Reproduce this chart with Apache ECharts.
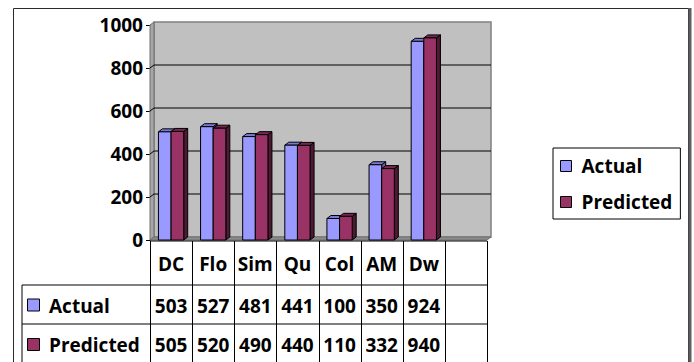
<!DOCTYPE html>
<html>
<head>
<meta charset="utf-8">
<script src="https://cdn.jsdelivr.net/npm/echarts@6/dist/echarts.min.js"></script>
<style>
  html, body { margin: 0; padding: 0; background: #ffffff; }
  #chart { width: 694px; height: 362px; }
</style>
</head>
<body>
<div id="chart"></div>
<script>
// Categories (the last slot is an empty column in the data table)
const categories = ['DC', 'Flo', 'Sim', 'Qu', 'Col', 'AM', 'Dw', ''];
const actual = [503, 527, 481, 441, 100, 350, 924];
const predicted = [505, 520, 490, 440, 110, 332, 940];
const seriesNames = ['Actual', 'Predicted'];
const yTicks = [0, 200, 400, 600, 800, 1000];

// Plot geometry (front plane of the 3D box) and depth offset
const PLOT = { left: 150, right: 487, top: 25, bottom: 240 };
const DX = 4, DY = 3;
const FONT = '"Open Sans", "Noto Sans", sans-serif';
const FONT_SIZE = 19;

// Face colours for each series: front, top, side
const faces = [
  { front: '#9999FF', top: '#7B7BD6', side: '#6262B0' },
  { front: '#993366', top: '#7A2852', side: '#4E1933' }
];

const chart = echarts.init(document.getElementById('chart'), null, { renderer: 'svg' });

// Back wall, side wall, floor and grid lines of the 3D box
function renderWall(params, api) {
  const cs = params.coordSys;
  const v = api.value(1);
  const y = api.coord([0, v])[1];
  const children = [];
  if (params.dataIndex === 0) {
    const x0 = cs.x, x1 = cs.x + cs.width, yt = cs.y, yb = cs.y + cs.height;
    children.push({
      type: 'polygon',
      shape: { points: [[x0 + DX, yt - DY], [x1 + DX, yt - DY], [x1 + DX, yb - DY], [x0 + DX, yb - DY]] },
      style: { fill: '#C0C0C0', stroke: '#808080', lineWidth: 1.5 }
    });
    children.push({
      type: 'polygon',
      shape: { points: [[x0, yt], [x0 + DX, yt - DY], [x0 + DX, yb - DY], [x0, yb]] },
      style: { fill: '#A6A6A6', stroke: '#6E6E6E', lineWidth: 1 }
    });
    children.push({
      type: 'polygon',
      shape: { points: [[x0, yb], [x0 + DX, yb - DY], [x1 + DX, yb - DY], [x1, yb]] },
      style: { fill: '#8C8C8C', stroke: '#6E6E6E', lineWidth: 1 }
    });
  } else if (v < 1000) {
    children.push({
      type: 'line',
      shape: { x1: cs.x + DX, y1: y - DY, x2: cs.x + cs.width + DX, y2: y - DY },
      style: { stroke: '#000000', lineWidth: 1.2 }
    });
    children.push({
      type: 'line',
      shape: { x1: cs.x, y1: y, x2: cs.x + DX, y2: y - DY },
      style: { stroke: '#000000', lineWidth: 1 }
    });
  }
  return { type: 'group', children: children };
}

// 3D bar: front face, top face and right-hand side face
function makeBarRenderer(seriesIdx) {
  return function (params, api) {
    const idx = api.value(0);
    const top = api.coord([idx, api.value(1)]);
    const base = api.coord([idx, 0]);
    const band = api.size([1, 0])[0];
    const w = band * 0.3;
    const x = top[0] - w + seriesIdx * w;
    const f = faces[seriesIdx];
    const st = { stroke: '#000000', lineWidth: 1 };
    return {
      type: 'group',
      children: [
        {
          type: 'polygon',
          shape: { points: [[x + w, top[1]], [x + w + DX, top[1] - DY], [x + w + DX, base[1] - DY], [x + w, base[1]]] },
          style: Object.assign({ fill: f.side }, st)
        },
        {
          type: 'polygon',
          shape: { points: [[x, top[1]], [x + DX, top[1] - DY], [x + w + DX, top[1] - DY], [x + w, top[1]]] },
          style: Object.assign({ fill: f.top }, st)
        },
        {
          type: 'rect',
          shape: { x: x, y: top[1], width: w, height: base[1] - top[1] },
          style: Object.assign({ fill: f.front }, st)
        }
      ]
    };
  };
}

// Data table under the plot, aligned with the category columns
function buildTable() {
  const els = [];
  const band = (PLOT.right - PLOT.left) / categories.length;
  const rowTop = 241, rowHead = 285, rowA = 324, rowB = 370;
  const tableLeft = 22;
  const line = (x1, y1, x2, y2) => ({
    type: 'line', z: 50,
    shape: { x1: x1, y1: y1, x2: x2, y2: y2 },
    style: { stroke: '#000000', lineWidth: 1 }
  });
  const txt = (t, x, y, align) => ({
    type: 'text', z: 51, x: x, y: y,
    style: {
      text: t, fill: '#000000', font: 'bold ' + FONT_SIZE + 'px ' + FONT,
      align: align || 'center', verticalAlign: 'middle'
    }
  });
  els.push(line(PLOT.left, rowTop, PLOT.right, rowTop));
  els.push(line(tableLeft, rowHead, PLOT.right, rowHead));
  els.push(line(tableLeft, rowA, PLOT.right, rowA));
  els.push(line(tableLeft, rowHead, tableLeft, rowB));
  for (let i = 0; i <= categories.length; i++) {
    const xb = Math.round(PLOT.left + i * band) + 0.5;
    els.push(line(xb, rowTop, xb, rowB));
  }
  const rows = [actual, predicted];
  const yMid = [(rowHead + rowA) / 2 + 1, (rowA + rowB) / 2 - 2];
  categories.forEach(function (c, i) {
    const cx = PLOT.left + (i + 0.5) * band;
    els.push(txt(c, cx, (rowTop + rowHead) / 2 + 1));
    rows.forEach(function (r, k) {
      if (r[i] !== undefined) els.push(txt(String(r[i]), cx, yMid[k]));
    });
  });
  seriesNames.forEach(function (n, k) {
    els.push({
      type: 'rect', z: 51,
      shape: { x: 27.5, y: yMid[k] - 6.5, width: 12, height: 12 },
      style: { fill: faces[k].front, stroke: '#000000', lineWidth: 1 }
    });
    els.push(txt(n, 49, yMid[k], 'left'));
  });
  // Chart frame
  els.push({
    type: 'rect', z: 40,
    shape: { x: 13.5, y: 8.5, width: 675, height: 400 },
    style: { fill: null, stroke: '#2B2B2B', lineWidth: 1 }
  });
  els.push(line(690, 8, 690, 362));
  els[els.length - 1].style = { stroke: '#5E5E5E', lineWidth: 3 };
  return els;
}

chart.setOption({
  animation: false,
  backgroundColor: '#ffffff',
  grid: {
    left: PLOT.left, right: 694 - PLOT.right,
    top: PLOT.top, bottom: 362 - PLOT.bottom,
    show: false
  },
  legend: {
    data: seriesNames,
    orient: 'vertical',
    left: 553, top: 148,
    padding: [8, 8, 7, 7],
    itemGap: 16,
    itemWidth: 11, itemHeight: 11,
    borderColor: '#000000', borderWidth: 1,
    backgroundColor: '#ffffff',
    icon: 'rect',
    itemStyle: { borderColor: '#000000', borderWidth: 1 },
    textStyle: {
      fontFamily: FONT, fontWeight: 'bold', fontSize: FONT_SIZE,
      color: '#000000', lineHeight: 20, padding: [0, 0, 0, 5]
    }
  },
  xAxis: {
    type: 'category',
    data: categories,
    axisLine: { show: false },
    axisTick: { show: false },
    axisLabel: { show: false },
    splitLine: { show: false }
  },
  yAxis: {
    type: 'value',
    min: 0, max: 1000, interval: 200,
    axisLine: { show: true, lineStyle: { color: '#000000', width: 1 } },
    axisTick: { show: true, length: 4, lineStyle: { color: '#000000' } },
    axisLabel: {
      margin: 7, color: '#000000',
      fontFamily: FONT, fontWeight: 'bold', fontSize: FONT_SIZE,
      formatter: function (v) { return String(v); }
    },
    splitLine: { show: false }
  },
  series: [
    {
      name: 'wall', type: 'custom', z: 1, silent: true,
      renderItem: renderWall,
      data: yTicks.map(function (v) { return [0, v]; })
    },
    {
      name: seriesNames[0], type: 'custom', z: 3, clip: false,
      itemStyle: { color: faces[0].front, borderColor: '#000000', borderWidth: 1 },
      renderItem: makeBarRenderer(0),
      data: actual.map(function (v, i) { return [i, v]; })
    },
    {
      name: seriesNames[1], type: 'custom', z: 3, clip: false,
      itemStyle: { color: faces[1].front, borderColor: '#000000', borderWidth: 1 },
      renderItem: makeBarRenderer(1),
      data: predicted.map(function (v, i) { return [i, v]; })
    }
  ],
  graphic: buildTable()
});
</script>
</body>
</html>
